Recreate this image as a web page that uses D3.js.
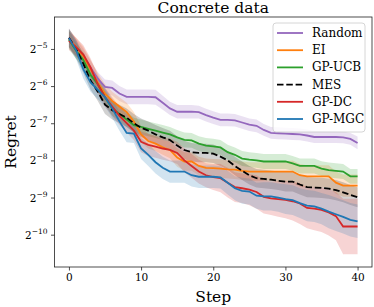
<!DOCTYPE html>
<html>
<head>
<meta charset="utf-8">
<script src="https://cdn.jsdelivr.net/npm/d3@7"></script>
<style>
  body { margin: 0; background: #fff; }
  text { font-family: "DejaVu Serif", serif; }
</style>
</head>
<body>
<div id="chart"></div>
<script>
// steps 0..40, values are log2(regret)
var steps = d3.range(0, 41);
var xTicks = [0, 10, 20, 30, 40];
var yTicks = [-5, -6, -7, -8, -9, -10];
var names = ["Random", "EI", "GP-UCB", "MES", "GP-DC", "GP-MGC"];
var colors = ["#9467bd", "#ff7f0e", "#2ca02c", "#000000", "#d62728", "#1f77b4"];

var random = [-4.70,-4.95,-5.20,-5.50,-5.80,-6.02,-6.05,-6.20,-6.29,-6.29,-6.29,-6.29,-6.30,-6.45,-6.60,-6.69,-6.69,-6.69,-6.70,-6.78,-6.85,-6.91,-6.91,-6.92,-6.98,-7.04,-7.07,-7.18,-7.26,-7.27,-7.28,-7.29,-7.30,-7.33,-7.37,-7.37,-7.37,-7.37,-7.38,-7.42,-7.53];
var ei = [-4.72,-4.95,-5.20,-5.55,-5.90,-6.20,-6.40,-6.55,-6.70,-6.95,-7.30,-7.48,-7.55,-7.65,-7.72,-7.92,-8.03,-8.03,-8.15,-8.20,-8.21,-8.22,-8.24,-8.25,-8.28,-8.30,-8.30,-8.30,-8.30,-8.30,-8.30,-8.30,-8.40,-8.43,-8.43,-8.43,-8.43,-8.60,-8.68,-8.68,-8.68];
var gpucb = [-4.75,-5.05,-5.30,-5.70,-5.95,-6.30,-6.60,-6.75,-6.90,-7.05,-7.10,-7.15,-7.20,-7.25,-7.30,-7.38,-7.45,-7.46,-7.55,-7.60,-7.62,-7.65,-7.78,-7.85,-7.95,-7.98,-8.00,-8.03,-8.03,-8.03,-8.03,-8.08,-8.15,-8.15,-8.15,-8.22,-8.26,-8.28,-8.30,-8.43,-8.43];
var mes = [-4.70,-5.00,-5.40,-5.85,-6.15,-6.50,-6.65,-6.75,-6.85,-7.00,-7.12,-7.20,-7.30,-7.38,-7.45,-7.60,-7.72,-7.78,-7.80,-7.80,-7.82,-7.90,-8.00,-8.15,-8.28,-8.40,-8.48,-8.50,-8.52,-8.55,-8.57,-8.57,-8.65,-8.72,-8.73,-8.74,-8.76,-8.80,-8.86,-8.93,-8.99];
var gpdc = [-4.78,-4.95,-5.15,-5.50,-5.95,-6.30,-6.55,-6.80,-7.00,-7.20,-7.50,-7.58,-7.63,-7.68,-7.72,-7.80,-8.00,-8.15,-8.30,-8.40,-8.45,-8.48,-8.60,-8.72,-8.75,-8.79,-8.85,-8.98,-9.02,-9.04,-9.06,-9.10,-9.16,-9.28,-9.30,-9.33,-9.40,-9.50,-9.78,-9.78,-9.78];
var gpmgc = [-4.71,-5.03,-5.55,-5.90,-6.10,-6.30,-6.60,-6.95,-7.26,-7.28,-7.68,-7.85,-8.05,-8.20,-8.30,-8.30,-8.30,-8.40,-8.44,-8.44,-8.44,-8.46,-8.60,-8.75,-8.82,-8.84,-8.95,-8.97,-8.97,-9.00,-9.04,-9.07,-9.15,-9.22,-9.24,-9.30,-9.38,-9.45,-9.52,-9.60,-9.64];

// half width of the shaded band, log2 units
var randomSd = [0.25,0.22,0.20,0.18,0.18,0.20,0.20,0.20,0.20,0.20,0.20,0.20,0.20,0.19,0.18,0.18,0.18,0.18,0.17,0.17,0.17,0.17,0.17,0.17,0.17,0.17,0.17,0.16,0.16,0.16,0.16,0.16,0.16,0.16,0.16,0.16,0.16,0.16,0.16,0.16,0.17];
var eiSd = [0.25,0.25,0.25,0.25,0.25,0.25,0.25,0.25,0.25,0.25,0.22,0.20,0.20,0.20,0.22,0.25,0.25,0.25,0.25,0.25,0.25,0.25,0.25,0.25,0.25,0.25,0.25,0.25,0.25,0.28,0.28,0.30,0.30,0.30,0.30,0.30,0.30,0.30,0.30,0.30,0.30];
var gpucbSd = [0.25,0.22,0.22,0.20,0.20,0.20,0.20,0.20,0.20,0.20,0.20,0.20,0.20,0.20,0.20,0.20,0.20,0.20,0.20,0.20,0.20,0.20,0.20,0.20,0.20,0.20,0.20,0.20,0.20,0.20,0.20,0.20,0.20,0.20,0.20,0.20,0.20,0.20,0.20,0.20,0.20];
var mesSd = [0.25,0.25,0.25,0.25,0.25,0.25,0.25,0.25,0.25,0.25,0.25,0.25,0.25,0.25,0.25,0.25,0.25,0.25,0.25,0.25,0.25,0.25,0.25,0.25,0.25,0.25,0.25,0.25,0.25,0.25,0.27,0.27,0.27,0.27,0.27,0.27,0.27,0.27,0.27,0.27,0.27];
var gpdcSd = [0.25,0.25,0.25,0.25,0.25,0.25,0.25,0.25,0.25,0.25,0.28,0.30,0.30,0.30,0.30,0.30,0.32,0.32,0.32,0.32,0.35,0.38,0.40,0.40,0.40,0.42,0.45,0.45,0.45,0.48,0.50,0.52,0.55,0.55,0.58,0.60,0.62,0.65,0.75,0.75,0.75];
var gpmgcSd = [0.25,0.25,0.25,0.25,0.25,0.25,0.25,0.25,0.25,0.25,0.28,0.30,0.30,0.30,0.30,0.30,0.30,0.30,0.30,0.30,0.30,0.30,0.32,0.32,0.35,0.35,0.35,0.38,0.38,0.38,0.40,0.40,0.40,0.42,0.42,0.42,0.45,0.45,0.45,0.45,0.45];

var means = [random, ei, gpucb, mes, gpdc, gpmgc];
var sds = [randomSd, eiSd, gpucbSd, mesSd, gpdcSd, gpmgcSd];

var width = 374, height = 307;
var margin = {left: 54.5, right: 2, top: 17, bottom: 40};

var svg = d3.select("#chart").append("svg")
  .attr("width", width)
  .attr("height", height);

var x = d3.scaleLinear().domain([-2, 42]).range([margin.left, width - margin.right]);
var y = d3.scaleLog().base(2)
  .domain([Math.pow(2, -10.87), Math.pow(2, -4.14)])
  .range([height - margin.bottom, margin.top]);

var clip = svg.append("clipPath").attr("id", "clip").append("rect")
  .attr("x", margin.left).attr("y", margin.top)
  .attr("width", width - margin.right - margin.left)
  .attr("height", height - margin.bottom - margin.top);

var plot = svg.append("g").attr("clip-path", "url(#clip)");

var band = d3.area()
  .x(function(d, i) { return x(steps[i]); })
  .y0(function(d) { return y(Math.pow(2, d[0] - d[1])); })
  .y1(function(d) { return y(Math.pow(2, d[0] + d[1])); });

var line = d3.line()
  .x(function(d, i) { return x(steps[i]); })
  .y(function(d) { return y(Math.pow(2, d)); });

means.forEach(function(m, k) {
  var pairs = m.map(function(v, i) { return [v, sds[k][i]]; });
  plot.append("path")
    .attr("d", band(pairs))
    .style("fill", colors[k])
    .style("fill-opacity", k == 3 ? 0.18 : 0.2)
    .style("stroke", "none");
});

means.forEach(function(m, k) {
  plot.append("path")
    .attr("d", line(m))
    .style("fill", "none")
    .style("stroke", colors[k])
    .style("stroke-width", 1.8)
    .style("stroke-dasharray", k == 3 ? "6.5,2.8" : null);
});

// frame
svg.append("rect")
  .attr("x", margin.left).attr("y", margin.top)
  .attr("width", width - margin.right - margin.left)
  .attr("height", height - margin.bottom - margin.top)
  .style("fill", "none").style("stroke", "#222").style("stroke-width", 0.8);

// x axis
var xAxis = svg.append("g")
  .attr("transform", "translate(0," + (height - margin.bottom) + ")")
  .call(d3.axisBottom(x).tickValues(xTicks).tickSize(3.5).tickPadding(3));
xAxis.select(".domain").remove();
xAxis.selectAll("line").style("stroke", "#222").style("stroke-width", 0.8);
xAxis.selectAll("text").style("font-family", "DejaVu Serif").style("font-size", "10.5px").style("fill", "#000");

// y axis, labels as 2^k
var yAxis = svg.append("g")
  .attr("transform", "translate(" + margin.left + ",0)")
  .call(d3.axisLeft(y).tickValues(yTicks.map(function(t) { return Math.pow(2, t); }))
    .tickSize(3.5).tickFormat(""));
yAxis.select(".domain").remove();
yAxis.selectAll("line").style("stroke", "#222").style("stroke-width", 0.8);

yTicks.forEach(function(t) {
  var lab = svg.append("text")
    .attr("x", margin.left - 7)
    .attr("y", y(Math.pow(2, t)) + 4)
    .attr("text-anchor", "end")
    .style("font-size", "10.5px");
  lab.append("tspan").text("2");
  lab.append("tspan").attr("dy", -5).style("font-size", "7.5px").text("\u2212" + Math.abs(t));
});

// titles
svg.append("text")
  .attr("x", (margin.left + width - margin.right) / 2)
  .attr("y", 13)
  .attr("text-anchor", "middle")
  .style("font-size", "15.5px")
  .text("Concrete data");

svg.append("text")
  .attr("x", (margin.left + width - margin.right) / 2)
  .attr("y", 302)
  .attr("text-anchor", "middle")
  .style("font-size", "15.5px")
  .text("Step");

svg.append("text")
  .attr("transform", "translate(16," + ((margin.top + height - margin.bottom) / 2) + ") rotate(-90)")
  .attr("text-anchor", "middle")
  .style("font-size", "15.5px")
  .text("Regret");

// legend
var legend = svg.append("g").attr("transform", "translate(273,23)");
legend.append("rect")
  .attr("width", 92).attr("height", 109).attr("rx", 3)
  .style("fill", "#fff").style("fill-opacity", 0.8)
  .style("stroke", "#ccc").style("stroke-width", 0.8);

names.forEach(function(n, k) {
  var cy = 10 + k * 17.2;
  legend.append("line")
    .attr("x1", 4).attr("x2", 30).attr("y1", cy).attr("y2", cy)
    .style("stroke", colors[k]).style("stroke-width", 1.8)
    .style("stroke-dasharray", k == 3 ? "6.5,2.8" : null);
  legend.append("text")
    .attr("x", 39).attr("y", cy + 4)
    .style("font-size", "12px")
    .text(n);
});
</script>
</body>
</html>
